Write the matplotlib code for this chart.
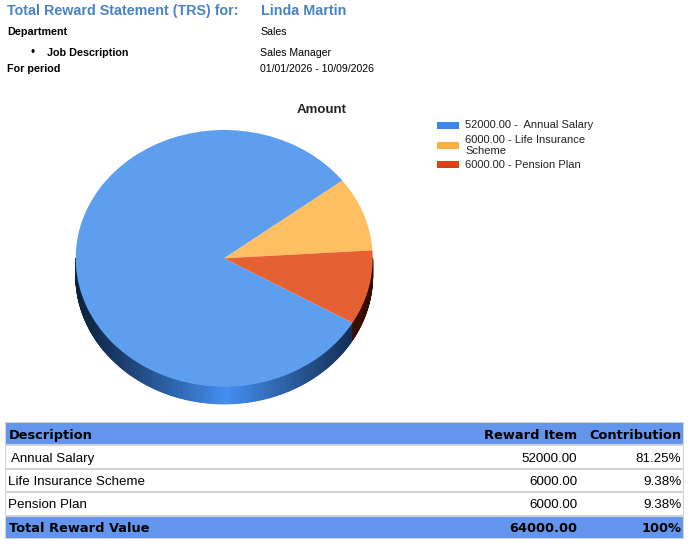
import numpy as np
import matplotlib
matplotlib.use("Agg")
import matplotlib.pyplot as plt
from matplotlib.patches import Rectangle
from matplotlib.collections import PolyCollection

# data
employee = "Linda Martin"
info_labels = ["Department", "Job Description", "For period"]
info_values = ["Sales", "Sales Manager", "01/01/2026 - 10/09/2026"]
items = [" Annual Salary", "Life Insurance Scheme", "Pension Plan"]
amounts = [52000.00, 6000.00, 6000.00]
legend_labels = ["52000.00 -  Annual Salary", "6000.00 - Life Insurance\nScheme", "6000.00 - Pension Plan"]
top_colors = ["#5e9eef", "#fcbf62", "#e56033"]
legend_colors = ["#3c87ec", "#fbb142", "#de4116"]
columns = ["Description", "Reward Item", "Contribution"]

W, H = 694, 546
SANS = "Liberation Sans"
BOLD_WIDE = "DejaVu Sans"

fig = plt.figure(figsize=(W / 100, H / 100), dpi=100)

# page axes in pixel units for the header texts and legend
page = fig.add_axes([0, 0, 1, 1])
page.set_xlim(0, W)
page.set_ylim(H, 0)
page.axis("off")

page.text(7, 15, "Total Reward Statement (TRS) for:", family=SANS, weight="bold",
          fontsize=10.3, color="#4a83c4", va="baseline")
page.text(261, 15, employee, family=SANS, weight="bold", fontsize=10.3,
          color="#4a83c4", va="baseline")

rows_y = [35, 55.7, 72.3]
for i, (lab, val) in enumerate(zip(info_labels, info_values)):
    x = 47 if i == 1 else 7
    if i == 1:
        page.text(31, rows_y[i], "\u2022", family=SANS, fontsize=8.5, va="baseline")
    page.text(x, rows_y[i], lab, family=SANS, weight="bold", fontsize=7.75, va="baseline")
    page.text(260, rows_y[i], val, family=SANS, fontsize=7.6, va="baseline")

page.text(322, 113, "Amount", family=SANS, weight="bold", fontsize=9.5,
          ha="center", va="baseline", color="#222222")

# legend
box_top = [121.7, 141.7, 160.7]
for lab, col, yt in zip(legend_labels, legend_colors, box_top):
    page.add_patch(Rectangle((437, yt), 22, 7.6, facecolor=col, edgecolor="none"))
    page.text(465, yt + 3.8, lab, family=SANS, fontsize=8.0, va="center",
              color="#222222", linespacing=1.1)

# pie chart (3d look)
cx, cy, rx, ry = 224.2, 258.3, 148.5, 128.3
depth = 17.3 / ry
xl, yb, yt_ = 1.1, 1.3, 1.1
pie_ax = fig.add_axes([(cx - xl * rx) / W, 1 - (cy + yb * ry) / H,
                       2 * xl * rx / W, (yb + yt_) * ry / H])
pie_ax.patch.set_visible(False)

start = -30.2
total = sum(amounts)
spans = [a / total * 360 for a in amounts]
starts = list(start - np.concatenate([[0], np.cumsum(spans)[:-1]]))

side_dark = [np.array([0.05, 0.13, 0.24]), np.array([0.35, 0.22, 0.05]), np.array([0.20, 0.05, 0.0])]
side_light = [np.array([0.26, 0.56, 0.95]), np.array([0.75, 0.52, 0.15]), np.array([0.36, 0.10, 0.0])]

polys, cols = [], []
angs = np.linspace(180, 360, 361)
for a0, a1 in zip(angs[:-1], angs[1:]):
    am = (a0 + a1) / 2
    k = 0
    for i, (s, sp) in enumerate(zip(starts, spans)):
        if (s - am) % 360 < sp:
            k = i
    r0, r1 = np.radians(a0), np.radians(a1)
    polys.append([(np.cos(r0), np.sin(r0)), (np.cos(r1), np.sin(r1)),
                  (np.cos(r1), np.sin(r1) - depth), (np.cos(r0), np.sin(r0) - depth)])
    t = (1 - min(abs(np.cos(np.radians(am)) - 0.02), 1)) ** 1.1
    cols.append(side_dark[k] + (side_light[k] - side_dark[k]) * t)
pie_ax.add_collection(PolyCollection(polys, facecolors=cols, edgecolors=cols, linewidths=0.6))

pie_ax.pie(amounts, colors=top_colors, startangle=start, counterclock=False,
           radius=1, wedgeprops=dict(linewidth=0))
pie_ax.set_aspect("auto")
pie_ax.set_xlim(-xl, xl)
pie_ax.set_ylim(-yb, yt_)
pie_ax.axis("off")

# table
tab = fig.add_axes([5 / W, 1 - 539 / H, 679 / W, 117 / H])
tab.set_xlim(5, 684)
tab.set_ylim(5, 0)
tab.axis("off")
head_col = "#6495ed"
grid_col = "#d3d3d3"

total_val = sum(amounts)
pct = [a / total_val * 100 for a in amounts]
body = [[d, f"{a:.2f}", f"{p:.2f}%"] for d, a, p in zip(items, amounts, pct)]
footer = ["Total Reward Value", f"{total_val:.2f}", "100%"]

for r in [0, 4]:
    tab.add_patch(Rectangle((5, r), 679, 1, facecolor=head_col, edgecolor="none"))
for r in range(1, 5):
    tab.plot([5, 684], [r, r], color=grid_col, lw=1.5, solid_capstyle="butt")
tab.add_patch(Rectangle((5, 0), 679, 5, facecolor="none", edgecolor=grid_col, lw=1.5))

col_x = [9, 577, 681.5]
col_ha = ["left", "right", "right"]
for j, name in enumerate(columns):
    tab.text(col_x[j], 0.5, name, family=BOLD_WIDE, weight="bold", fontsize=9.4,
             ha=col_ha[j], va="center_baseline")
for i, row in enumerate(body):
    for j, val in enumerate(row):
        tab.text(col_x[j] - (1 if j == 0 else 0), i + 1.5, val, family=SANS, fontsize=9.6,
                 ha=col_ha[j], va="center_baseline")
for j, val in enumerate(footer):
    tab.text(col_x[j], 4.5, val, family=BOLD_WIDE, weight="bold", fontsize=9.4,
             ha=col_ha[j], va="center_baseline")

plt.savefig("out.png", dpi=100)
